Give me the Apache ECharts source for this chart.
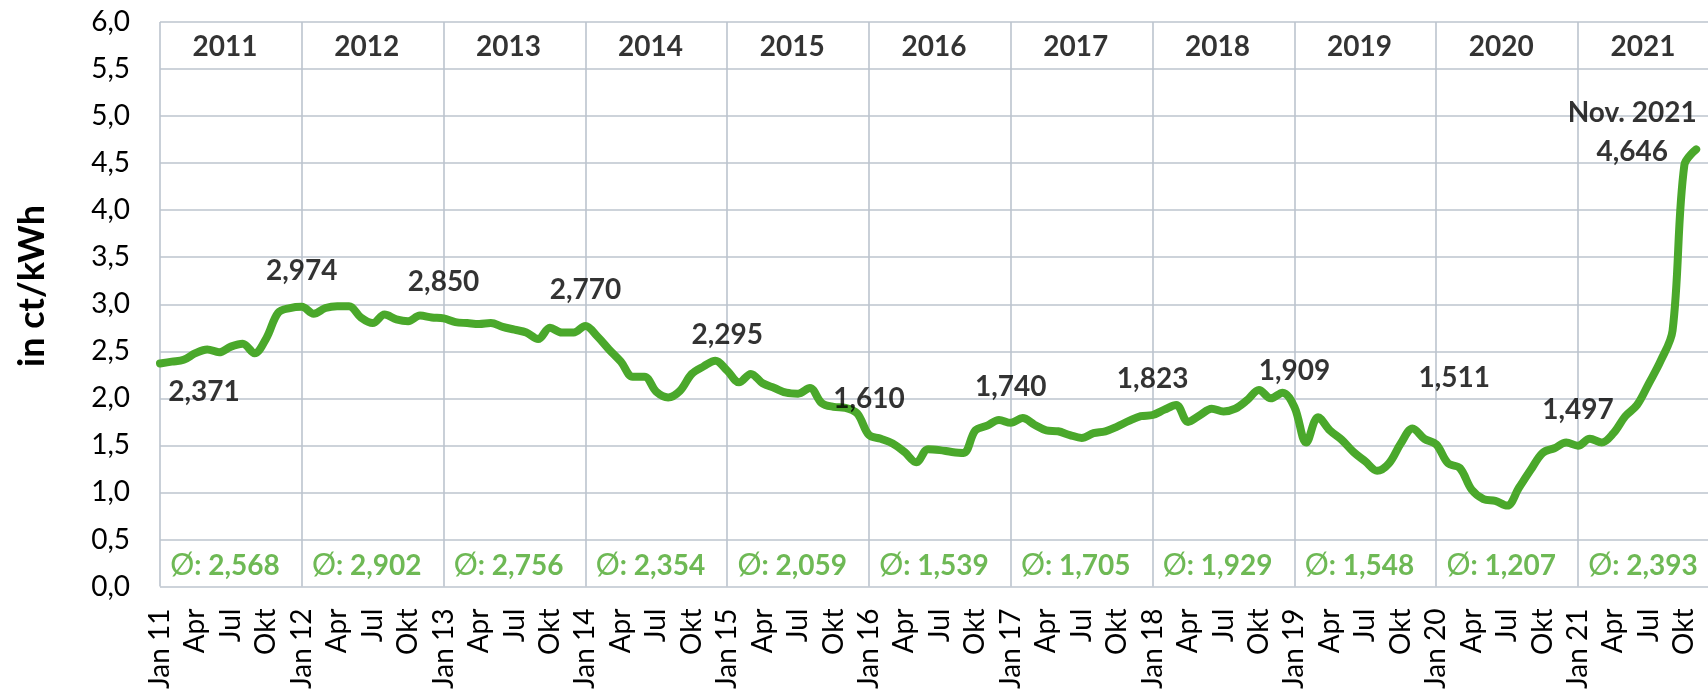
<!DOCTYPE html>
<html>
<head>
<meta charset="utf-8">
<script src="https://cdn.jsdelivr.net/npm/echarts@6/dist/echarts.min.js"></script>
<style>
html,body{margin:0;padding:0;background:#ffffff;}
#chart{width:1708px;height:692px;}
</style>
</head>
<body>
<div id="chart"></div>
<script>
// ---------- data ----------
const monthNames = ['Jan','Feb','Mrz','Apr','Mai','Jun','Jul','Aug','Sep','Okt','Nov','Dez'];
const years = ['2011','2012','2013','2014','2015','2016','2017','2018','2019','2020','2021'];
// monthly values Jan 2011 .. Nov 2021 (ct/kWh)
const prices = [
  2.371, 2.39, 2.41, 2.48, 2.52, 2.49, 2.55, 2.58, 2.48, 2.64, 2.91, 2.96,   // 2011
  2.974, 2.90, 2.96, 2.98, 2.98, 2.86, 2.80, 2.89, 2.84, 2.82, 2.88, 2.86,   // 2012
  2.850, 2.81, 2.80, 2.79, 2.80, 2.76, 2.73, 2.70, 2.63, 2.75, 2.70, 2.70,   // 2013
  2.770, 2.66, 2.52, 2.39, 2.23, 2.23, 2.07, 2.01, 2.08, 2.26, 2.34, 2.40,   // 2014
  2.295, 2.17, 2.26, 2.16, 2.11, 2.06, 2.05, 2.11, 1.95, 1.91, 1.90, 1.84,   // 2015
  1.610, 1.57, 1.52, 1.43, 1.32, 1.46, 1.45, 1.43, 1.42, 1.66, 1.71, 1.77,   // 2016
  1.740, 1.79, 1.72, 1.66, 1.65, 1.61, 1.58, 1.63, 1.65, 1.70, 1.76, 1.81,   // 2017
  1.823, 1.88, 1.93, 1.75, 1.82, 1.89, 1.86, 1.89, 1.98, 2.09, 2.00, 2.06,   // 2018
  1.909, 1.53, 1.80, 1.66, 1.56, 1.43, 1.33, 1.23, 1.31, 1.52, 1.68, 1.57,   // 2019
  1.511, 1.31, 1.26, 1.03, 0.93, 0.91, 0.86, 1.05, 1.24, 1.42, 1.47, 1.53,   // 2020
  1.497, 1.57, 1.53, 1.63, 1.81, 1.93, 2.16, 2.40, 2.72, 4.48, 4.646         // 2021
];
const yearAverages = [2.568, 2.902, 2.756, 2.354, 2.059, 1.539, 1.705, 1.929, 1.548, 1.207, 2.393];
const labeledMonths = [0, 12, 24, 36, 48, 60, 72, 84, 96, 108, 120, 130];
const yAxisTitle = 'in ct/kWh';
const lastLabelPrefix = 'Nov. 2021';
const avgSymbol = '\u00D8';

// ---------- build ----------
const categories = [];
years.forEach(function (y) {
  monthNames.forEach(function (m, i) {
    categories.push(i === 0 ? 'Jan ' + y.slice(2) : m);
  });
});

const GREEN = '#4aa82b';
const GRID = '#bcc4ce';
const FONT = 'Lato, "Open Sans", sans-serif';
const fmt3 = function (v) { return v.toFixed(3).replace('.', ','); };

const labelOffsets = { 0: [44, 29], 108: [18, -66], 130: [-64, -17] };

const valueLabelData = labeledMonths.map(function (i) {
  const off = labelOffsets[i] || [0, -36];
  return {
    value: [i, prices[i]],
    label: {
      offset: off,
      formatter: i === 130 ? (lastLabelPrefix + '\n' + fmt3(prices[i])) : fmt3(prices[i])
    }
  };
});

const yearLabelData = years.map(function (y, k) {
  return { value: [12 * k + 5.5, 5.735], label: { formatter: y } };
});
const avgLabelData = yearAverages.map(function (a, k) {
  return { value: [12 * k + 5.5, 0.223], label: { formatter: '{s|' + avgSymbol + '}{v|: ' + fmt3(a) + '}' } };
});

const chart = echarts.init(document.getElementById('chart'), null, { renderer: 'canvas' });

const option = {
  animation: false,
  backgroundColor: '#ffffff',
  textStyle: { fontFamily: FONT },
  grid: { left: 160, top: 22, height: 566, width: 131 * 11.875, containLabel: false },
  xAxis: [
    {
      type: 'category',
      data: categories,
      boundaryGap: false,
      axisLine: { show: false },
      axisTick: { show: false },
      axisLabel: {
        interval: 2,
        rotate: 90,
        margin: 22,
        fontSize: 28,
        color: '#000',
        fontFamily: FONT
      },
      splitLine: {
        show: true,
        interval: function (index) { return index % 12 === 0; },
        lineStyle: { color: GRID, width: 1.6 }
      }
    },
    {
      type: 'value',
      min: 0,
      max: 131,
      show: false
    }
  ],
  yAxis: {
    type: 'value',
    min: 0,
    max: 6,
    interval: 0.5,
    axisLine: { show: false },
    axisTick: { show: false },
    axisLabel: {
      margin: 30,
      fontSize: 28,
      color: '#000',
      fontFamily: FONT,
      formatter: function (v) { return v.toFixed(1).replace('.', ','); }
    },
    splitLine: { show: true, lineStyle: { color: GRID, width: 1.6 } }
  },
  graphic: [
    {
      type: 'text',
      x: 32,
      y: 286,
      rotation: Math.PI / 2,
      style: {
        text: yAxisTitle,
        font: 'bold 36px Lato, "Open Sans", sans-serif',
        fill: '#000',
        align: 'center',
        verticalAlign: 'middle'
      }
    }
  ],
  series: [
    {
      type: 'line',
      data: prices,
      smooth: 0.35,
      showSymbol: false,
      symbol: 'none',
      lineStyle: { color: GREEN, width: 8, cap: 'round', join: 'round' },
      z: 3
    },
    {
      type: 'scatter',
      data: valueLabelData,
      symbolSize: 1,
      itemStyle: { color: 'rgba(0,0,0,0)' },
      silent: true,
      z: 5,
      label: {
        show: true,
        position: 'inside',
        color: '#000',
        fontSize: 28,
        fontWeight: 'bold',
        fontFamily: FONT,
        lineHeight: 39,
        align: 'center',
        verticalAlign: 'middle'
      }
    },
    {
      type: 'scatter',
      xAxisIndex: 1,
      data: yearLabelData,
      symbolSize: 1,
      itemStyle: { color: 'rgba(0,0,0,0)' },
      silent: true,
      z: 5,
      label: {
        show: true,
        position: 'inside',
        color: '#000',
        fontSize: 28,
        fontWeight: 'bold',
        fontFamily: FONT
      }
    },
    {
      type: 'scatter',
      xAxisIndex: 1,
      data: avgLabelData,
      symbolSize: 1,
      itemStyle: { color: 'rgba(0,0,0,0)' },
      silent: true,
      z: 5,
      label: {
        show: true,
        position: 'inside',
        color: GREEN,
        fontSize: 28,
        fontWeight: 'bold',
        fontFamily: FONT,
        rich: {
          s: { color: GREEN, fontSize: 30, fontWeight: 'normal', fontFamily: FONT },
          v: { color: GREEN, fontSize: 28, fontWeight: 'bold', fontFamily: FONT }
        }
      }
    }
  ]
};

chart.setOption(option);
</script>
</body>
</html>
